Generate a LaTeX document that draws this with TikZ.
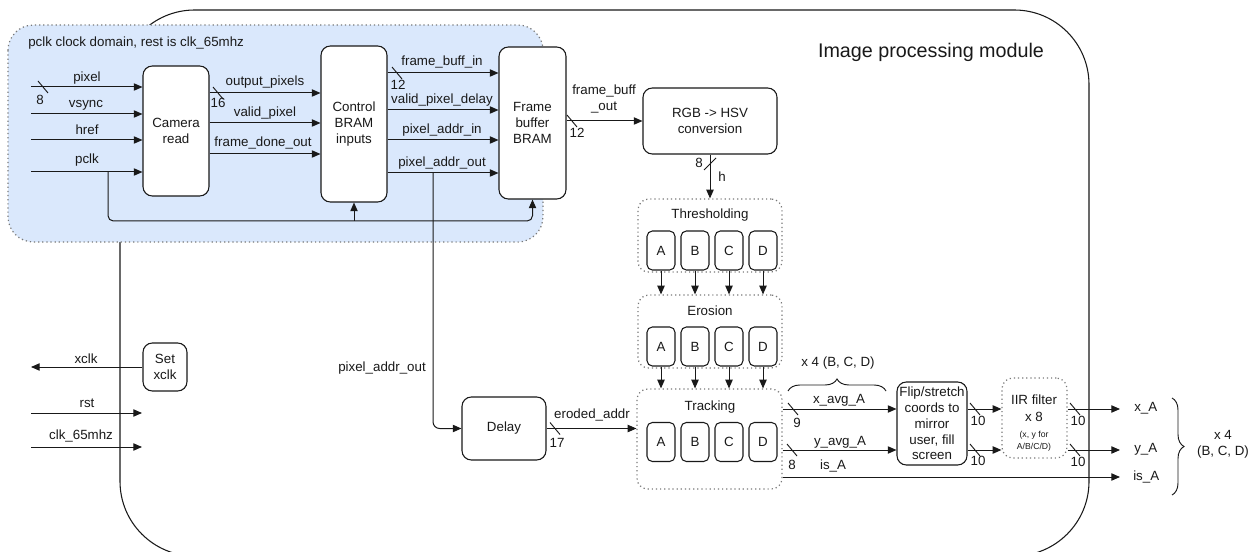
\documentclass[tikz,border=0pt]{standalone}
\usepackage{fontspec}
\setmainfont{Liberation Sans}
\usetikzlibrary{arrows.meta,decorations.pathreplacing,calc}
\definecolor{blueregion}{RGB}{218,232,252}
\definecolor{ink}{RGB}{25,25,25}
\definecolor{dotc}{RGB}{120,120,120}
\tikzset{
 lbl/.style={font=\fontsize{10}{12}\selectfont, inner sep=0pt, text=ink},
 small/.style={font=\fontsize{6.5}{9}\selectfont, inner sep=0pt, text=ink, align=center},
 blk/.style={draw=ink, line width=0.8pt, rounded corners=7pt, fill=white, align=center, font=\fontsize{10}{11.8}\selectfont, inner sep=0pt, text=ink},
 sblk/.style={blk, rounded corners=4pt, minimum width=21pt, minimum height=29.25pt},
 grp/.style={draw=dotc, line width=0.9pt, dash pattern=on 0.9pt off 2.2pt, rounded corners=8pt},
 sig/.style={draw=ink, line width=0.75pt, -{Triangle[length=6.5pt,width=5.5pt]}},
 wire/.style={draw=ink, line width=0.75pt},
 bus/.pic={\draw[ink, line width=0.7pt] (-5,-6) -- (5,6);},
 busv/.pic={\draw[ink, line width=0.7pt] (-6,6) -- (6,-6);},
 brc/.style={draw=ink, line width=0.7pt, decorate, decoration={brace, amplitude=9pt}},
}
\begin{document}
\begin{tikzpicture}[x=0.75pt,y=-0.75pt]
\clip (0,0) rectangle (1255,552);
\fill[white] (0,0) rectangle (1255,552);
% outer module
\draw[ink, line width=0.8pt, rounded corners=56pt] (120,10) rectangle (1089,556);
\node[font=\fontsize{14.8}{17}\selectfont, text=ink, inner sep=0pt] (title) at (931,52) {Image processing module};
% pclk clock domain
\draw[grp, fill=blueregion, rounded corners=19pt] (8,25) rectangle (543,242);
\node[lbl, anchor=west] (dom) at (28,43) {pclk clock domain, rest is clk\_65mhz};

% blocks
\node[blk, minimum width=49.5pt, minimum height=97.5pt] (cam) at (176,131) {Camera\\read};
\node[blk, minimum width=49.5pt, minimum height=117pt] (ctl) at (354,124) {Control\\BRAM\\inputs};
\node[blk, minimum width=50.25pt, minimum height=114pt] (fb) at (532.5,123) {Frame\\buffer\\BRAM};
\node[blk, minimum width=100.5pt, minimum height=49.5pt] (hsv) at (710,121) {RGB -> HSV\\conversion};
\node[blk, minimum width=63pt, minimum height=47.25pt] (dly) at (504,428.5) {Delay};
\node[blk, minimum width=33pt, minimum height=36pt] (setx) at (165,367) {Set\\xclk};
\node[blk, minimum width=52.5pt, minimum height=62.25pt] (flip) at (932,423.5) {Flip/stretch\\coords to\\mirror\\user, fill\\screen};

% groups
\node[grp, minimum width=108pt, minimum height=54.75pt] (thr) at (710,235.5) {};
\node[grp, minimum width=108pt, minimum height=54.75pt] (ero) at (710,331.5) {};
\node[grp, minimum width=108.75pt, minimum height=75pt] (trk) at (709.5,439) {};
\node[grp, minimum width=48.75pt, minimum height=60pt] (iir) at (1034.5,418) {};
\node[lbl] (thrt) at (710,215) {Thresholding};
\node[lbl] (erot) at (710,311) {Erosion};
\node[lbl] (trkt) at (710,407) {Tracking};
\node[lbl, align=center, font=\fontsize{10}{12.5}\selectfont] (iirt) at (1034,408) {IIR filter\\x 8};
\node[small] (iirs) at (1034,441) {(x, y for\\A/B/C/D)};

\foreach \l/\xx in {A/661,B/695,C/729,D/763} {
  \node[sblk] (t\l) at (\xx,250.5) {\l};
  \node[sblk] (e\l) at (\xx,346.5) {\l};
  \node[sblk] (k\l) at (\xx,442) {\l};
  \draw[sig] (t\l.south) -- (t\l.south |- ero.north);
  \draw[sig] (e\l.south) -- (e\l.south |- trk.north);
}

% coordinates
\coordinate (ipix) at (31,87);
\coordinate (ivs) at (31,114);
\coordinate (ihr) at (31,140);
\coordinate (ipc) at (31,172);
\coordinate (c1) at (0,93);
\coordinate (c2) at (0,123);
\coordinate (c3) at (0,154);
\coordinate (d1) at (0,73);
\coordinate (d2) at (0,110);
\coordinate (d3) at (0,140);
\coordinate (d4) at (0,173);
\coordinate (bot) at (0,221);
\coordinate (pbr) at (108,172);
\coordinate (pab) at (433,173);
\coordinate (rX) at (0,409);
\coordinate (rY) at (0,450);
\coordinate (rI) at (0,477);
\coordinate (xA) at (1120,409);
\coordinate (yA) at (1120,450);
\coordinate (isA) at (1120,477);
\coordinate (oxclk) at (31,367);
\coordinate (irst) at (31,413);
\coordinate (erst) at (142,413);
\coordinate (iclk) at (31,447);
\coordinate (eclk) at (142,447);

% camera inputs
\draw[sig] (ipix) -- (ipix -| cam.west);
\draw[sig] (ivs) -- (ivs -| cam.west);
\draw[sig] (ihr) -- (ihr -| cam.west);
\draw[sig] (ipc) -- (ipc -| cam.west);
\node[lbl] at (87,78) {pixel};
\node[lbl] at (86,105) {vsync};
\node[lbl] at (87,130) {href};
\node[lbl] at (87,160) {pclk};
\pic at (43,87) {bus};
\node[lbl] at (40,100) {8};

% camera -> control
\draw[sig] (cam.east |- c1) -- (ctl.west |- c1);
\draw[sig] (cam.east |- c2) -- (ctl.west |- c2);
\draw[sig] (cam.east |- c3) -- (ctl.west |- c3);
\node[lbl] at (265,82) {output\_pixels};
\node[lbl] at (265,113) {valid\_pixel};
\node[lbl] at (263,143) {frame\_done\_out};
\pic at (218,93) {bus};
\node[lbl] at (218,103) {16};

% control -> frame buffer
\draw[sig] (ctl.east |- d1) -- (fb.west |- d1);
\draw[sig] (ctl.east |- d2) -- (fb.west |- d2);
\draw[sig] (ctl.east |- d3) -- (fb.west |- d3);
\draw[sig] (ctl.east |- d4) -- (fb.west |- d4);
\node[lbl] at (442,62) {frame\_buff\_in};
\node[lbl] at (442,100) {valid\_pixel\_delay};
\node[lbl] at (442,130) {pixel\_addr\_in};
\node[lbl] at (442,163) {pixel\_addr\_out};
\pic at (397,73) {bus};
\node[lbl] at (398,85) {12};

% pclk branch
\draw[sig, rounded corners=4pt] (pbr) |- (fb.south |- bot) -- (fb.south);
\draw[sig] (ctl.south |- bot) -- (ctl.south);

% pixel_addr_out branch
\draw[sig, rounded corners=5pt] (pab) |- (dly.west);
\node[lbl] at (382,368) {pixel\_addr\_out};

% frame buffer -> hsv
\draw[sig] (fb.east |- hsv.west) -- (hsv.west);
\node[lbl, align=center, font=\fontsize{10}{11.5}\selectfont] at (604,99) {frame\_buff\\\_out};
\pic at (572,121) {bus};
\node[lbl] at (577,133) {12};

% hsv -> thresholding
\draw[sig] (hsv.south) -- (thr.north);
\pic at (710,164) {busv};
\node[lbl] at (699,163) {8};
\node[lbl] at (722,177) {h};

% delay -> tracking
\draw[sig] (dly.east) -- (dly.east -| trk.west);
\node[lbl] at (592,415) {eroded\_addr};
\pic at (555,428.5) {bus};
\node[lbl] at (557,443) {17};

% tracking outputs
\draw[sig] (trk.east |- rX) -- (flip.west |- rX);
\draw[sig] (trk.east |- rY) -- (flip.west |- rY);
\draw[sig] (trk.east |- rI) -- (isA);
\node[lbl] at (839,400) {x\_avg\_A};
\node[lbl] at (840,442) {y\_avg\_A};
\node[lbl] at (833,466) {is\_A};
\pic at (793,409) {bus};
\node[lbl] at (797,423) {9};
\pic at (792,450) {bus};
\node[lbl] at (792,465) {8};
\draw[brc] (788,391) -- (886,391);
\node[lbl] at (838,363) {x 4 (B, C, D)};

% flip -> iir
\draw[sig] (flip.east |- rX) -- (iir.west |- rX);
\draw[sig] (flip.east |- rY) -- (iir.west |- rY);
\pic at (975,409) {bus};
\node[lbl] at (978,421) {10};
\pic at (975,450) {bus};
\node[lbl] at (978,461) {10};

% iir outputs
\draw[sig] (iir.east |- rX) -- (xA);
\draw[sig] (iir.east |- rY) -- (yA);
\pic at (1075,409) {bus};
\node[lbl] at (1078,421) {10};
\pic at (1075,450) {bus};
\node[lbl] at (1078,462) {10};
\node[lbl, anchor=west] at (1134,408) {x\_A};
\node[lbl, anchor=west] at (1134,449) {y\_A};
\node[lbl, anchor=west] at (1133,477) {is\_A};
\draw[brc] (1172,398) -- (1172,495);
\node[lbl, align=center] at (1223,444) {x 4\\(B, C, D)};

% left signals
\draw[sig] (setx.west) -- (oxclk);
\draw[sig] (irst) -- (erst);
\draw[sig] (iclk) -- (eclk);
\node[lbl] at (86,359) {xclk};
\node[lbl] at (87,403) {rst};
\node[lbl] at (81,436) {clk\_65mhz};
\end{tikzpicture}
\end{document}
